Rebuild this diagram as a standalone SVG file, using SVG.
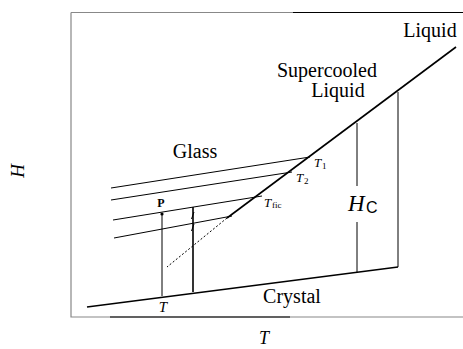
<svg xmlns="http://www.w3.org/2000/svg" width="463" height="349" viewBox="0 0 463 349">
<style>
.lbl{font-family:"Liberation Serif",serif;font-size:20px;fill:#000}
.it{font-family:"Liberation Serif",serif;font-style:italic;fill:#000}
.sub{font-family:"Liberation Serif",serif;font-size:9px;fill:#000}
.ln{stroke:#000;stroke-width:1;fill:none}
.th{stroke:#000;stroke-width:1.6;fill:none}
.fr{stroke:#888;stroke-width:1.2;fill:none}
</style>
<rect width="463" height="349" fill="#fff"/>
<g id="frame">
<path class="fr" d="M71,12.5 H463 M71,12.5 V317 H463"/>
<path d="M293,12.5 H463 M110,317 H290" stroke="#000" stroke-width="1.2" fill="none"/>
</g>
<g id="connectors">
<path class="th" d="M456,47 L227,218"/>
<path class="ln" d="M227,218 L167,267" stroke-dasharray="2,2"/>
<path class="th" d="M87,307 L398,267"/>
<path class="ln" d="M398,92 V267"/>
<path class="ln" d="M357,123 V186 M357,222 V272"/>
<path class="ln" d="M111,188 L310,157"/>
<path class="ln" d="M111,200 L292,172"/>
<path class="ln" d="M113,220 L262,196"/>
<path class="ln" d="M114,238 L232,216"/>
<path class="ln" d="M162,214 V296"/>
<path class="th" d="M193,207 V292"/>
<path class="ln" d="M191.5,219 L194,212 M191.5,231 L194,224"/>
<circle cx="162" cy="214" r="1.6" fill="#000"/>
</g>
<g id="liquid"><text class="lbl" x="430" y="37" text-anchor="middle">Liquid</text></g>
<g id="supercooled"><text class="lbl" x="327" y="77" text-anchor="middle">Supercooled</text><text class="lbl" x="338" y="97" text-anchor="middle">Liquid</text></g>
<g id="glass"><text class="lbl" x="195" y="158" text-anchor="middle">Glass</text></g>
<g id="crystal"><text class="lbl" x="292" y="303" text-anchor="middle">Crystal</text></g>
<g id="t1"><text class="it" x="314" y="167" font-size="13">T</text><text class="sub" x="322" y="169">1</text></g>
<g id="t2"><text class="it" x="296" y="182" font-size="13">T</text><text class="sub" x="304" y="184">2</text></g>
<g id="tfic"><text class="it" x="264" y="207" font-size="13">T</text><text class="sub" x="272" y="208">fic</text></g>
<g id="hc"><text class="it" x="348" y="211" font-size="23">H</text><text x="366" y="213" font-family="Liberation Sans,sans-serif" font-size="16">C</text></g>
<g id="p"><text x="161" y="207" text-anchor="middle" font-family="Liberation Serif,serif" font-weight="bold" font-size="12">P</text></g>
<g id="tlow"><text class="it" x="163" y="312" font-size="15" text-anchor="middle">T</text></g>
<g id="taxis"><text class="it" x="264" y="344" font-size="18" text-anchor="middle">T</text></g>
<g id="haxis"><text class="it" x="0" y="0" font-size="19" text-anchor="middle" transform="translate(24,171) rotate(-90)">H</text></g>
</svg>
